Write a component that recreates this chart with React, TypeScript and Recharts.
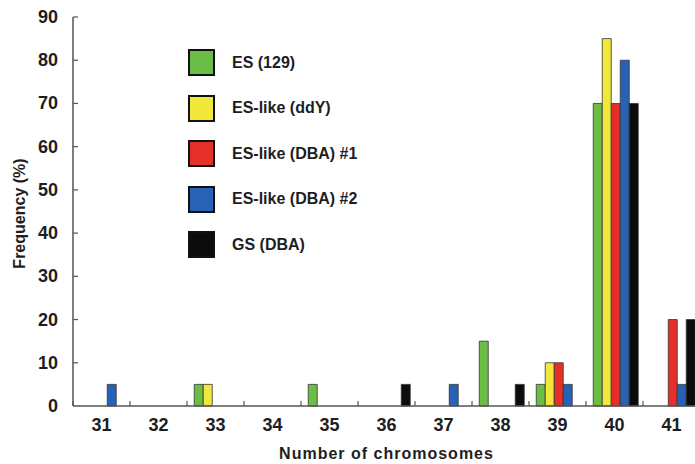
import React from 'react';
import { BarChart, Bar, XAxis, YAxis, Legend } from 'recharts';

// ─── Data ─────────────────────────────────────────────────────────────────────

const CHROMOSOMES = ['31', '32', '33', '34', '35', '36', '37', '38', '39', '40', '41'];

const ES_129 = [0, 0, 5, 0, 5, 0, 0, 15, 5, 70, 0];
const ES_LIKE_DDY = [0, 0, 5, 0, 0, 0, 0, 0, 10, 85, 0];
const ES_LIKE_DBA_1 = [0, 0, 0, 0, 0, 0, 0, 0, 10, 70, 20];
const ES_LIKE_DBA_2 = [5, 0, 0, 0, 0, 0, 5, 0, 5, 80, 5];
const GS_DBA = [0, 0, 0, 0, 0, 5, 0, 5, 0, 70, 20];

const Y_TICKS = [0, 10, 20, 30, 40, 50, 60, 70, 80, 90];

const SERIES = [
  { key: 'es129', name: 'ES (129)', values: ES_129, colour: '#6cbd45' },
  { key: 'esDdy', name: 'ES-like (ddY)', values: ES_LIKE_DDY, colour: '#f2e83c' },
  { key: 'dba1', name: 'ES-like (DBA) #1', values: ES_LIKE_DBA_1, colour: '#e5302a' },
  { key: 'dba2', name: 'ES-like (DBA) #2', values: ES_LIKE_DBA_2, colour: '#2862b4' },
  { key: 'gs', name: 'GS (DBA)', values: GS_DBA, colour: '#0c0c0c' },
];

const chartData = CHROMOSOMES.map((c, i) => {
  const row: Record<string, string | number> = { name: c };
  SERIES.forEach((s) => {
    row[s.key] = s.values[i];
  });
  return row;
});

// ─── Layout ───────────────────────────────────────────────────────────────────

const CHART_W = 705;
const CHART_H = 464;
const MARGIN = { top: 17, right: 5, left: 0, bottom: 0 };
const Y_AXIS_W = 73;
const BAND = (CHART_W - MARGIN.left - MARGIN.right - Y_AXIS_W) / CHROMOSOMES.length;

const FONT = '"Liberation Sans", Arial, sans-serif';
const TEXT = '#1e1e1e';
const AXIS = '#555';

// ─── Ticks / labels ───────────────────────────────────────────────────────────

function YTick(props: any) {
  const { x, y, payload } = props;
  return (
    <g>
      {payload.value !== 0 && (
        <line x1={x + 15} x2={x + 20} y1={y} y2={y} stroke={AXIS} strokeWidth={1.2} />
      )}
      <text
        x={x}
        y={y}
        textAnchor="end"
        dominantBaseline="central"
        fontFamily={FONT}
        fontWeight="bold"
        fontSize={18}
        fill={TEXT}
      >
        {payload.value}
      </text>
    </g>
  );
}

function XTick(props: any) {
  const { x, y, payload } = props;
  return (
    <g>
      <line x1={x - BAND / 2} x2={x - BAND / 2} y1={y - 5} y2={y} stroke={AXIS} strokeWidth={1.2} />
      <text
        x={x}
        y={y + 19}
        textAnchor="middle"
        dominantBaseline="central"
        fontFamily={FONT}
        fontWeight="bold"
        fontSize={18}
        fill={TEXT}
      >
        {payload.value}
      </text>
    </g>
  );
}

// legend keeps the series order (Recharts would sort it by name)
function renderLegend() {
  return (
    <div style={{ fontFamily: FONT }}>
      {SERIES.map((s) => (
        <div key={s.key} style={{ display: 'flex', alignItems: 'center', height: 45.5 }}>
          <div
            style={{
              width: 23,
              height: 23,
              background: s.colour,
              border: '2px solid #111',
            }}
          />
          <span
            style={{
              marginLeft: 17,
              fontSize: 16,
              fontWeight: 'bold',
              color: TEXT,
              whiteSpace: 'nowrap',
            }}
          >
            {s.name}
          </span>
        </div>
      ))}
    </div>
  );
}

// ─── Component ────────────────────────────────────────────────────────────────

export default function App() {
  return (
    <div style={{ width: 695, height: 464, overflow: 'hidden', background: '#fff' }}>
      <style>{'body { margin: 0; }'}</style>
      <BarChart
        width={CHART_W}
        height={CHART_H}
        data={chartData}
        margin={MARGIN}
        barCategoryGap="12.7%"
        barGap={0}
      >
        <XAxis
          dataKey="name"
          height={58}
          tickSize={0}
          tickMargin={0}
          tick={<XTick />}
          axisLine={{ stroke: AXIS, strokeWidth: 1.5 }}
          tickLine={false}
          label={(p: any) => {
            const vb = p.viewBox;
            return (
              <text
                x={vb.x + vb.width / 2}
                y={vb.y + 47}
                textAnchor="middle"
                dominantBaseline="central"
                fontFamily={FONT}
                fontWeight="bold"
                fontSize={16}
                letterSpacing={1}
                fill={TEXT}
              >
                Number of chromosomes
              </text>
            );
          }}
        />
        <YAxis
          width={Y_AXIS_W}
          domain={[0, 90]}
          ticks={Y_TICKS}
          interval={0}
          tickSize={0}
          tickMargin={15}
          tick={<YTick />}
          axisLine={{ stroke: AXIS, strokeWidth: 1.5 }}
          tickLine={false}
          label={(p: any) => {
            const vb = p.viewBox;
            const cx = vb.x + 19;
            const cy = vb.y + vb.height / 2 + 2;
            return (
              <text
                x={cx}
                y={cy}
                transform={`rotate(-90, ${cx}, ${cy})`}
                textAnchor="middle"
                dominantBaseline="central"
                fontFamily={FONT}
                fontWeight="bold"
                fontSize={16}
                fill={TEXT}
              >
                Frequency (%)
              </text>
            );
          }}
        />
        <Legend
          layout="horizontal"
          verticalAlign="middle"
          align="center"
          content={renderLegend}
          wrapperStyle={{ left: 188, top: 40, width: 220 }}
        />
        {SERIES.map((s) => (
          <Bar
            key={s.key}
            dataKey={s.key}
            name={s.name}
            fill={s.colour}
            stroke="#333"
            strokeWidth={0.8}
            isAnimationActive={false}
          />
        ))}
      </BarChart>
    </div>
  );
}
